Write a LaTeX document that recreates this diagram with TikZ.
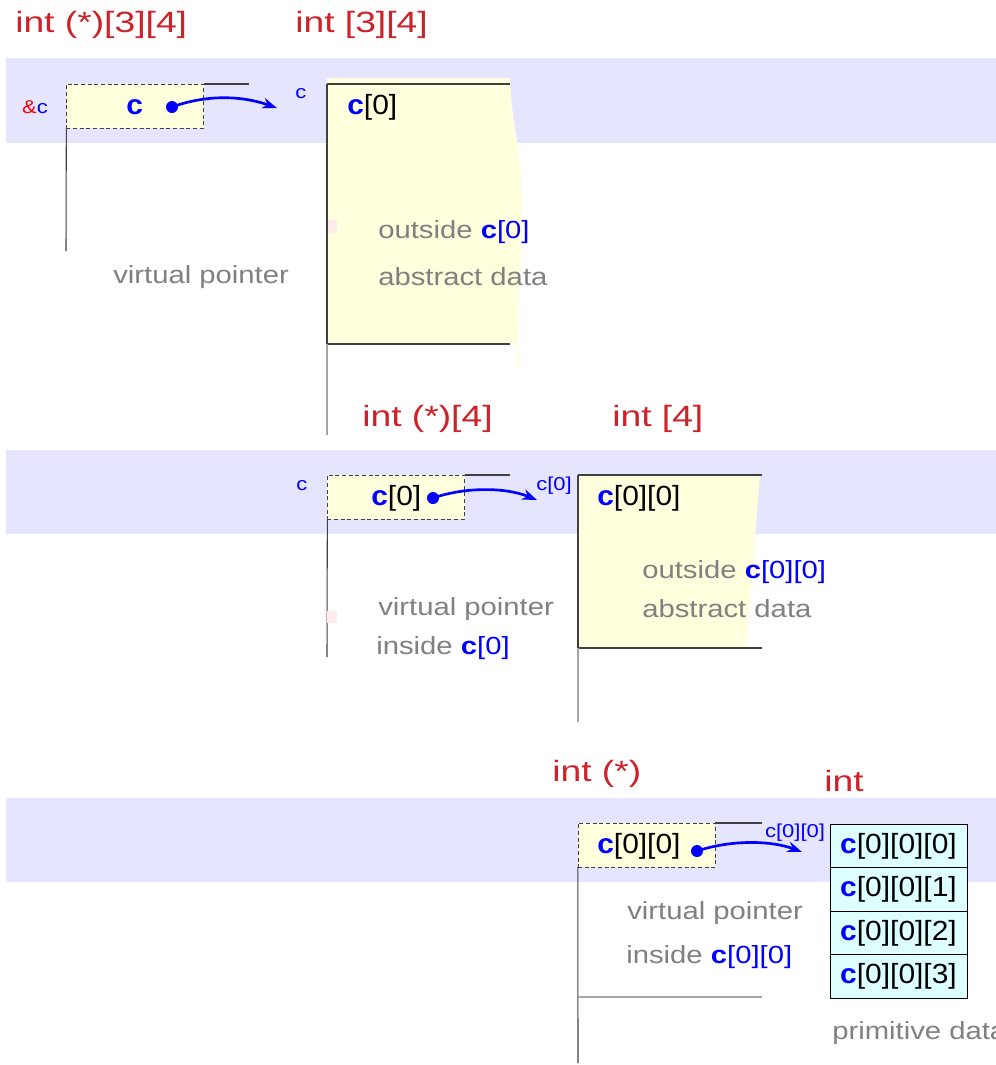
\documentclass[tikz,border=0pt]{standalone}
\usepackage{fontspec}
\setmainfont{Liberation Sans}
\newfontfamily\titlefont[FakeStretch=1.27]{Liberation Sans}
\newfontfamily\notefont[FakeStretch=1.18]{Liberation Sans}
\newfontfamily\cellfont[FakeStretch=1.08]{Liberation Sans}
\usepackage{xcolor}
\usetikzlibrary{arrows.meta,positioning}
\definecolor{typered}{RGB}{204,34,41}
\definecolor{bandblue}{RGB}{229,229,255}
\definecolor{memyellow}{RGB}{255,255,221}
\definecolor{cellcyan}{RGB}{221,255,255}
\definecolor{notegray}{RGB}{128,128,128}
\definecolor{ptrblue}{RGB}{0,0,255}
\newcommand{\cvar}{\textbf{\color{ptrblue}c}}

\begin{document}
\begin{tikzpicture}[x=0.75pt,y=-0.75pt,
  typelabel/.style={text=typered,font=\titlefont\fontsize{22}{24}\selectfont,anchor=west,inner sep=0},
  note/.style={text=notegray,font=\notefont\fontsize{18.6}{20}\selectfont,anchor=west,inner sep=0},
  addr/.style={text=ptrblue,font=\notefont\fontsize{14}{15}\selectfont,inner sep=0},
  celltext/.style={font=\cellfont\fontsize{20.8}{22}\selectfont,anchor=west,inner sep=0},
  ptrbox/.style={draw=black!75,densely dashed,fill=memyellow,minimum width=103pt,minimum height=33pt,inner sep=0,outer sep=0},
  cell/.style={draw=black,fill=cellcyan,minimum width=102.75pt,minimum height=32.6pt,inner sep=0,outer sep=0,font=\cellfont\fontsize{20.8}{22}\selectfont},
  frame/.style={draw=black!75,line width=0.8pt},
  framelight/.style={draw=black!35,line width=0.8pt},
  dot/.style={circle,fill=ptrblue,inner sep=0,minimum size=9pt},
  ptrarrow/.style={ptrblue,line width=2pt,-{Stealth[length=11pt,width=8pt]}}]
  \useasboundingbox (0,0) rectangle (996,1065);
  \clip (0,0) rectangle (996,1065);
  % bands
  \fill[bandblue] (6,58) rectangle (996,143);
  \fill[bandblue] (6,450) rectangle (996,534);
  \fill[bandblue] (6,798) rectangle (996,882);

  % int (*)[3][4] -> int [3][4]
  \node[typelabel] (ty1) at (15,25) {int (*)[3][4]};
  \node[typelabel] (ty2) at (295,25) {int [3][4]};
  \node[addr] (adr1) at (35,107) {\color{red}\&\color{ptrblue}c};
  \node[ptrbox] (p1) at (135,106) {};
  \draw[frame] (p1.north east) -- (249,84);
  \draw[frame] (p1.south west) -- (66,251);
  \node[celltext] (p1txt) at (126,107) {\cvar};
  \node[dot] (d1) at (172,107) {};
  \coordinate (a1) at (277,108);
  \draw[ptrarrow] (d1.center) .. controls (205,95) and (240,95) .. (a1);
  \node[addr] (adr2) at (301,94) {c};
  \fill[memyellow] (327,78) -- (510,78) .. controls (512,130) and (522,150) .. (522,200)
    .. controls (522,260) and (518,300) .. (518,344) -- (520,368) -- (516,368) -- (516,344) -- (327,344) -- cycle;
  \fill[red!8] (327,220) rectangle (337,233);
  \draw[frame] (327,84) -- (510,84);
  \draw[frame] (327,344) -- (510,344);
  \draw[frame] (327,84) -- (327,344);
  \draw[framelight] (327,344) -- (327,435);
  \node[celltext] (b1) at (347,107) {\cvar[0]};
  \node[note] (out1) at (378,232) {outside {\color{ptrblue}\textbf{c}[0]}};
  \node[note] (abs1) at (378,277) {abstract data};
  \node[note] (vp1) at (113,277) {virtual pointer};

  % int (*)[4] -> int [4]
  \node[typelabel] (ty3) at (362,419) {int (*)[4]};
  \node[typelabel] (ty4) at (612,419) {int [4]};
  \node[addr] (adr3) at (302,486) {c};
  \node[ptrbox] (p2) at (396,497) {};
  \draw[frame] (p2.north east) -- (510,475);
  \draw[frame] (p2.south west) -- (327,657);
  \node[celltext] (p2txt) at (371,498) {\cvar[0]};
  \node[dot] (d2) at (433,498) {};
  \coordinate (a2) at (537,500);
  \draw[ptrarrow] (d2.center) .. controls (465,487) and (505,487) .. (a2);
  \node[addr] (adr4) at (554,486) {c[0]};
  \fill[memyellow] (578,475) -- (760,475) -- (746,648) -- (578,648) -- cycle;
  \fill[red!8] (327,611) rectangle (337,623);
  \draw[frame] (578,475) -- (762,475);
  \draw[frame] (578,648) -- (762,648);
  \draw[frame] (578,475) -- (578,648);
  \draw[framelight] (578,648) -- (578,722);
  \node[celltext] (b2) at (597,498) {\cvar[0][0]};
  \node[note] (out2) at (642,572) {outside {\color{ptrblue}\textbf{c}[0][0]}};
  \node[note] (abs2) at (642,609) {abstract data};
  \node[note] (vp2) at (378,609) {virtual pointer};
  \node[note] (in2) at (376,648) {inside {\color{ptrblue}\textbf{c}[0]}};

  % int (*) -> int
  \node[typelabel] (ty5) at (552,774) {int (*)};
  \node[typelabel] (ty6) at (824,781) {int};
  \node[ptrbox] (p3) at (646.5,845) {};
  \draw[frame] (p3.north east) -- (762,823);
  \draw[frame] (p3.south west) -- (578,1063);
  \node[celltext] (p3txt) at (597,846) {\cvar[0][0]};
  \node[dot] (d3) at (697,851) {};
  \coordinate (a3) at (802,852);
  \draw[ptrarrow] (d3.center) .. controls (730,840) and (770,840) .. (a3);
  \node[addr] (adr5) at (795,833) {c[0][0]};
  \node[cell] (e0) at (898.5,846) {\cvar[0][0][0]};
  \node[cell,below=0pt of e0] (e1) {\cvar[0][0][1]};
  \node[cell,below=0pt of e1] (e2) {\cvar[0][0][2]};
  \node[cell,below=0pt of e2] (e3) {\cvar[0][0][3]};
  \draw[framelight] (578,997) -- (762,997);
  \node[note] (vp3) at (627,913) {virtual pointer};
  \node[note] (in3) at (626,957) {inside {\color{ptrblue}\textbf{c}[0][0]}};
  \node[note] (prim) at (832,1033) {primitive data};
\end{tikzpicture}
\end{document}
